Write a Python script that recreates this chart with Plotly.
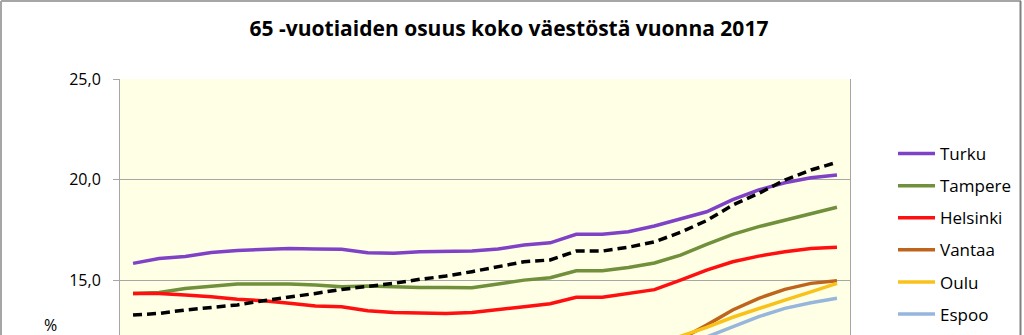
import plotly.graph_objects as go

years = list(range(1990, 2018))

turku = [15.86, 16.10, 16.20, 16.40, 16.50, 16.57, 16.60, 16.57, 16.56, 16.39, 16.36, 16.44, 16.44, 16.47,
         16.57, 16.77, 16.88, 17.30, 17.30, 17.43, 17.71, 18.05, 18.42, 19.02, 19.50, 19.86, 20.10, 20.24]
tampere = [14.37, 14.42, 14.62, 14.74, 14.84, 14.84, 14.84, 14.79, 14.70, 14.74, 14.70, 14.67, 14.67, 14.65,
           14.84, 15.03, 15.15, 15.49, 15.49, 15.66, 15.88, 16.27, 16.80, 17.30, 17.68, 18.00, 18.34, 18.64]
helsinki = [14.37, 14.37, 14.29, 14.21, 14.08, 14.01, 13.88, 13.75, 13.71, 13.51, 13.43, 13.41, 13.38, 13.43,
            13.55, 13.71, 13.86, 14.18, 14.18, 14.35, 14.56, 15.03, 15.53, 15.94, 16.22, 16.44, 16.60, 16.66]
vantaa = [6.0, 6.2, 6.4, 6.6, 6.8, 7.0, 7.2, 7.4, 7.6, 7.8, 8.0, 8.2, 8.5, 8.8,
          9.1, 9.5, 9.9, 10.3, 10.7, 11.1, 11.6, 12.1, 12.80, 13.55, 14.13, 14.57, 14.87, 15.00]
oulu = [8.5, 8.7, 8.8, 8.9, 9.0, 9.2, 9.3, 9.4, 9.5, 9.6, 9.8, 9.9, 10.1, 10.3,
        10.5, 10.7, 10.9, 11.1, 11.3, 11.5, 11.8, 12.25, 12.69, 13.19, 13.63, 14.04, 14.45, 14.87]
espoo = [6.7, 6.9, 7.0, 7.2, 7.3, 7.5, 7.7, 7.8, 8.0, 8.2, 8.4, 8.6, 8.8, 9.0,
         9.3, 9.6, 9.9, 10.2, 10.5, 10.8, 11.2, 11.7, 12.20, 12.72, 13.22, 13.63, 13.91, 14.13]
koko_maa = [13.30, 13.38, 13.55, 13.68, 13.80, 14.01, 14.18, 14.37, 14.57, 14.70, 14.87, 15.07, 15.23, 15.45,
            15.69, 15.94, 16.03, 16.47, 16.47, 16.66, 16.93, 17.40, 17.98, 18.75, 19.33, 19.99, 20.49, 20.87]

tick_vals = [15, 20, 25]
tick_text = ["15,0", "20,0", "25,0"]
title_text = "65 -vuotiaiden osuus koko väestöstä vuonna 2017"

series = [
    ("Turku", turku, "#7F42C6"),
    ("Tampere", tampere, "#71903C"),
    ("Helsinki", helsinki, "#FF1010"),
    ("Vantaa", vantaa, "#BF641C"),
    ("Oulu", oulu, "#F8C21A"),
    ("Espoo", espoo, "#96B6DC"),
]

FONT = "Open Sans"
fig = go.Figure()

for name, vals, col in series:
    fig.add_trace(go.Scatter(x=years, y=vals, mode="lines", name=name, legendgroup=name,
                             line=dict(color=col, width=3.5)))
fig.add_trace(go.Scatter(x=years, y=koko_maa, mode="lines", name="Koko maa",
                         line=dict(color="#000000", width=3.5, dash="9px,5px"),
                         showlegend=False))

W, H = 1024, 335
L, R, T, B = 120, 850, 79, 335

def px(xp):
    return (xp - L) / (R - L)

def py(yp):
    return (B - yp) / (B - T)

fig.update_layout(
    width=W, height=H,
    margin=dict(l=L, r=W - R, t=T, b=H - B, pad=0),
    paper_bgcolor="#FFFFFF",
    plot_bgcolor="#FFFFE6",
    font=dict(family=FONT, size=16, color="#000000"),
    title=dict(text="<b>" + title_text + "</b>", x=509 / W, xanchor="center", xref="container",
               y=1 - 29 / H, yanchor="middle", yref="container",
               font=dict(family=FONT, size=21, color="#000000")),
    xaxis=dict(range=[1989.5, 2017.5], showgrid=False, showticklabels=False, ticks="",
               showline=False, zeroline=False, fixedrange=True),
    yaxis=dict(range=[12.31, 25], tickvals=tick_vals, ticktext=tick_text,
               showgrid=True, gridcolor="#A6A6A6", gridwidth=1,
               showline=True, linecolor="#A6A6A6", linewidth=1, mirror=True,
               ticks="outside", ticklen=6, tickcolor="#A6A6A6", ticklabelstandoff=9,
               zeroline=False, tickfont=dict(family=FONT, size=16, color="#000000")),
    legend=dict(x=px(893), xanchor="left", y=py(136), yanchor="top",
                font=dict(family=FONT, size=17, color="#000000"),
                bgcolor="rgba(0,0,0,0)", itemwidth=37, tracegroupgap=7,
                traceorder="grouped"),
    showlegend=True,
)

fig.add_annotation(text="%", x=px(50), y=py(325), xref="paper", yref="paper",
                   showarrow=False, xanchor="center", yanchor="middle",
                   font=dict(family=FONT, size=16, color="#000000"))

# outer chart border (left, top, right)
border = dict(color="#A6A6A6", width=2)
fig.add_shape(type="line", xref="paper", yref="paper", x0=px(1), x1=px(1), y0=py(1), y1=py(340), line=border)
fig.add_shape(type="line", xref="paper", yref="paper", x0=px(1), x1=px(1021), y0=py(1), y1=py(1), line=border)
fig.add_shape(type="line", xref="paper", yref="paper", x0=px(1020.5), x1=px(1020.5), y0=py(1), y1=py(340),
              line=dict(color="#808080", width=2))

fig.write_html("out.html")
